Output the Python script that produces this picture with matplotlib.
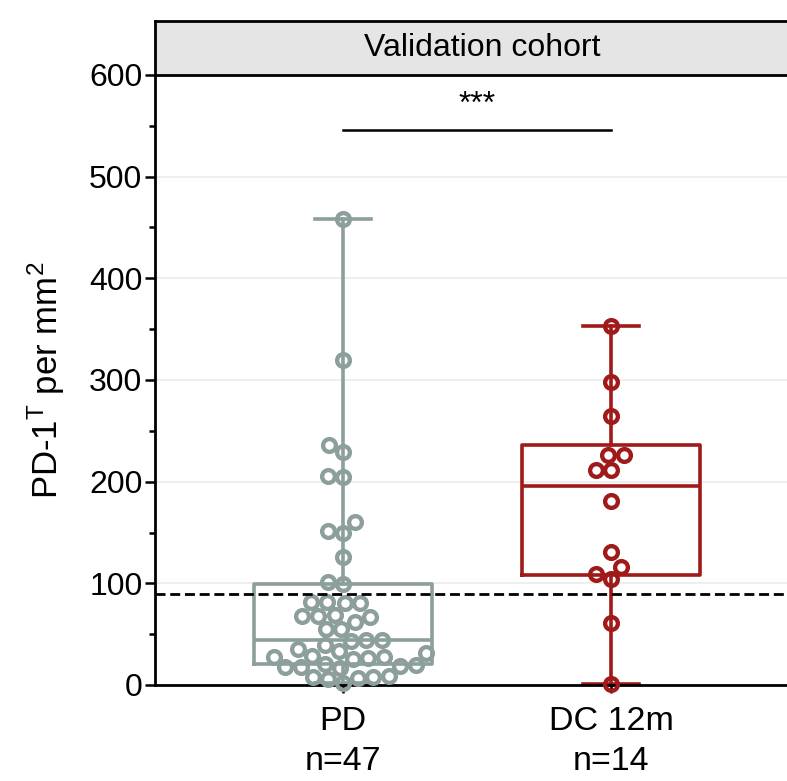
import numpy as np
import matplotlib
matplotlib.use('Agg')
import matplotlib.pyplot as plt
from matplotlib.ticker import MultipleLocator

# ---------------- data ----------------
groups = ['PD', 'DC 12m']
group_counts = ['n=47', 'n=14']
pd_values = [458, 320, 236, 229, 206, 205, 160, 151, 150, 126, 101, 99,
             82, 82, 81, 81, 69, 68, 68, 67, 62, 55, 55, 44, 44, 43, 39,
             35, 33, 31, 29, 28, 28, 27, 26, 21, 20, 19, 18, 18, 17,
             9, 8, 8, 7, 6, 2]
dc_values = [353, 298, 265, 226, 226, 211, 211, 181, 131, 116, 109, 104, 61, 1]
group_colors = ['#8C9F9D', '#A01A1A']
threshold = 90
sig_label = '***'
sig_level = 546
panel_title = 'Validation cohort'
y_label = r'PD-1$^{\mathrm{T}}$ per mm$^{2}$'
y_max = 600

plt.rcParams['font.family'] = ['Liberation Sans', 'DejaVu Sans']
plt.rcParams['mathtext.fontset'] = 'custom'
plt.rcParams['mathtext.rm'] = 'Liberation Sans'
plt.rcParams['mathtext.it'] = 'Liberation Sans:italic'

W, H = 787, 781
fig = plt.figure(figsize=(W / 100, H / 100), dpi=100)
ax_left, ax_right, ax_bot, ax_top = 155, 800, 96, 706
ax = fig.add_axes([ax_left / W, ax_bot / H, (ax_right - ax_left) / W, (ax_top - ax_bot) / H])
ax.set_xlim(-0.7015, 1.705)
ax.set_ylim(0, y_max)

positions = [0, 1]
data = [pd_values, dc_values]

# box statistics (Prism-like quantiles)
stats = []
for vals in data:
    v = np.asarray(vals, float)
    q1, med, q3 = np.percentile(v, [25, 50, 75], method='weibull')
    stats.append(dict(med=med, q1=q1, q3=q3, whislo=v.min(), whishi=v.max(), fliers=[]))

for st, pos, col in zip(stats, positions, group_colors):
    ax.bxp([st], positions=[pos], widths=0.664, capwidths=0.21, showfliers=False,
           boxprops=dict(color=col, lw=2.6),
           whiskerprops=dict(color=col, lw=2.6),
           capprops=dict(color=col, lw=2.6),
           medianprops=dict(color=col, lw=2.6),
           manage_ticks=False, zorder=2)

# beeswarm layout computed in pixel space
fig.canvas.draw()
p0 = ax.transData.transform((0, 0))
p1 = ax.transData.transform((1, 1))
ppu_x = p1[0] - p0[0]
ppu_y = p1[1] - p0[1]


def swarm(vals_px, d):
    vals_px = np.asarray(vals_px, float)
    xs = np.zeros(len(vals_px))
    placed = []
    for i in np.argsort(vals_px, kind='stable'):
        y = vals_px[i]
        near = [(xs[j], vals_px[j]) for j in placed if abs(vals_px[j] - y) < d]
        cands = [0.0]
        for xn, yn in near:
            dx = np.sqrt(max(d * d - (yn - y) ** 2, 0))
            cands += [xn - dx, xn + dx]
        cands = sorted(cands, key=lambda c: (abs(c), c))
        for c in cands:
            if all((c - xn) ** 2 + (y - yn) ** 2 >= d * d - 1e-6 for xn, yn in near):
                xs[i] = c
                break
        placed.append(i)
    return xs


for vals, pos, col in zip(data, positions, group_colors):
    v = np.asarray(vals, float)
    off = swarm(v * ppu_y, 15.5) / ppu_x
    ax.plot(pos + off, v, ls='none', marker='o', ms=9.2, mew=3.1, mfc='none', mec=col,
            zorder=3, clip_on=False)

ax.axhline(threshold, color='black', lw=2.0, ls=(0, (3.6, 1.7)), zorder=4)

# significance bar
ax.plot(positions, [sig_level, sig_level], color='black', lw=1.8, zorder=4)
ax.text(0.5, sig_level + 10, sig_label, ha='center', va='bottom', fontsize=23)

# axes styling
for s in ['top', 'right']:
    ax.spines[s].set_visible(False)
for s in ['left', 'bottom']:
    ax.spines[s].set_linewidth(2.0)
ax.yaxis.set_major_locator(MultipleLocator(100))
ax.yaxis.set_minor_locator(MultipleLocator(50))
ax.tick_params(axis='y', which='major', length=7, width=1.8, labelsize=23, pad=2)
ax.tick_params(axis='y', which='minor', length=4.5, width=1.8)
ax.tick_params(axis='x', which='major', length=6, width=1.8, labelsize=24.5, pad=9)
ax.set_xticks(positions)
ax.set_xticklabels([f'{g}\n{n}' for g, n in zip(groups, group_counts)], linespacing=1.4)
ax.yaxis.grid(True, which='major', color='#EDEDED', lw=1.3, zorder=0)
ax.set_axisbelow(True)
ax.set_ylabel(y_label, fontsize=25, labelpad=16)

# strip header
sax = fig.add_axes([ax_left / W, (H - 75) / H, (ax_right - ax_left) / W, 54 / H])
sax.set_facecolor('#E5E5E5')
sax.set_xlim(ax.get_xlim())
sax.set_ylim(0, 1)
sax.set_xticks([])
sax.set_yticks([])
for s in sax.spines.values():
    s.set_linewidth(2.0)
sax.text(0.52, 0.5, panel_title, ha='center', va='center', fontsize=23)

fig.savefig('out.png', dpi=100)
